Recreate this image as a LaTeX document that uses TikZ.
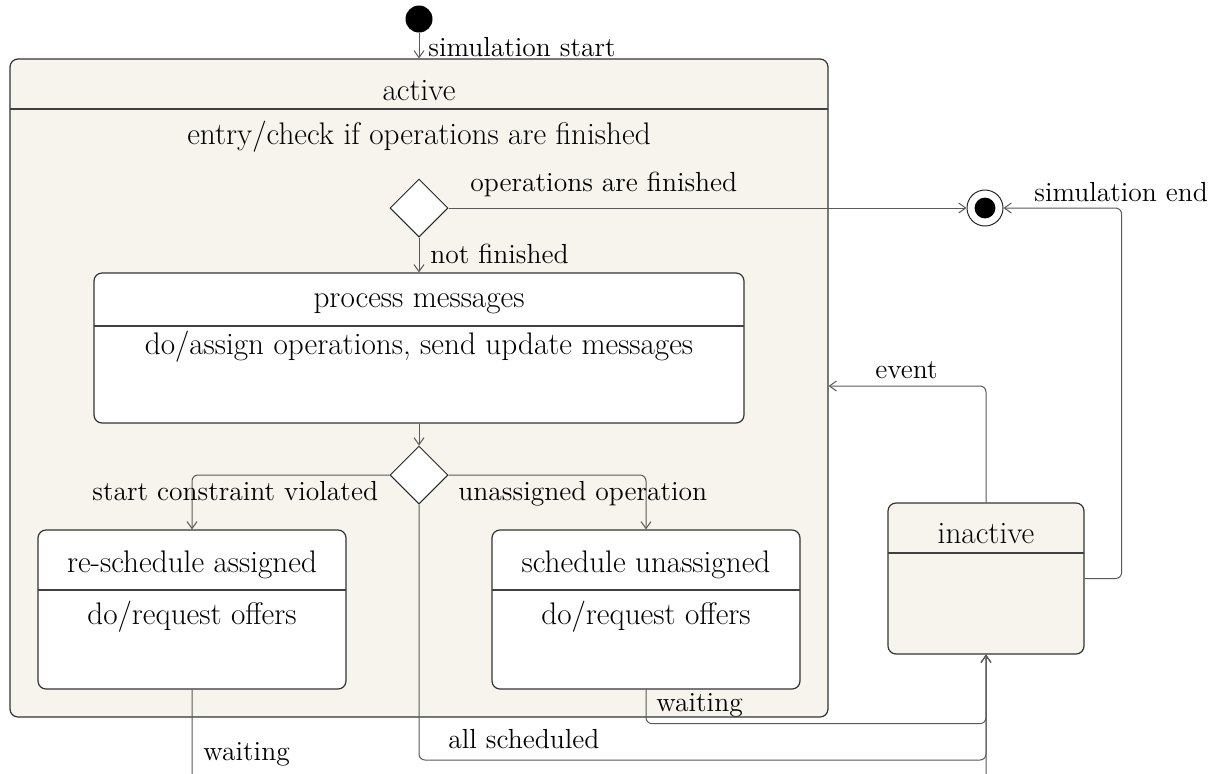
\documentclass[tikz,border=0pt]{standalone}
\usetikzlibrary{arrows.meta,shapes.geometric,fit}
\definecolor{stfill}{RGB}{247,244,237}
\begin{document}
\begin{tikzpicture}[x=0.5pt,y=-0.5pt,
  font=\fontsize{13.8}{16}\selectfont,
  stbox/.style={draw=black!80, line width=0.6pt, rounded corners=4pt, inner sep=0pt},
  outerstate/.style={stbox, fill=stfill},
  innerstate/.style={stbox, fill=white},
  part/.style={draw=black!75, line width=0.6pt},
  choice/.style={diamond, draw=black!85, line width=0.5pt, fill=white, aspect=1,
    minimum width=29pt, minimum height=29pt, inner sep=0pt},
  flow/.style={draw=black!65, line width=0.5pt, rounded corners=3pt,
    -{Straight Barb[length=3.5pt,width=5pt]}},
  lbl/.style={anchor=base west, inner sep=0pt},
  ttl/.style={anchor=base, inner sep=0pt, font=\fontsize{15.6}{18}\selectfont}]

\useasboundingbox (0,0) rectangle (1227,773);

% composite state "active"
\node[outerstate, fit={(10,59) (828,717)}] (active) {};
\draw[part] (10,109) -- (828,109);
\node[ttl] at (419,100) {active};
\node[ttl] at (419,144) {entry/check if operations are finished};

% pseudo states
\node[circle, fill=black, minimum size=13.5pt, inner sep=0pt] (init) at (419,19) {};
\node[circle, draw=black!85, line width=0.5pt, fill=white, minimum size=18pt, inner sep=0pt] (final) at (985,208) {};
\fill (final.center) circle (5.2pt);
\node[choice] (dec1) at (419,208) {};
\node[choice] (dec2) at (419,475) {};

% inner states
\node[innerstate, fit={(94,273) (744,423)}] (proc) {};
\draw[part] (94,326) -- (744,326);
\node[ttl] at (419,307) {process messages};
\node[ttl] at (419,354) {do/assign operations, send update messages};

\node[innerstate, fit={(38,530) (346,689)}] (resched) {};
\draw[part] (38,590) -- (346,590);
\node[ttl] at (192,572) {re-schedule assigned};
\node[ttl] at (192,624) {do/request offers};

\node[innerstate, fit={(492,530) (800,689)}] (sched) {};
\draw[part] (492,590) -- (800,590);
\node[ttl] at (646,572) {schedule unassigned};
\node[ttl] at (646,624) {do/request offers};

% state "inactive"
\node[outerstate, fit={(888,503) (1084,654)}] (inactive) {};
\draw[part] (888,553) -- (1084,553);
\node[ttl] at (986,543) {inactive};

% transitions
\draw[flow] (init) -- (active.north);
\node[lbl] at (428,56) {simulation start};

\draw[flow] (dec1.east) -- (final.west);
\node[lbl] at (470,191) {operations are finished};

\draw[flow] (dec1.south) -- (proc.north);
\node[lbl] at (430,263) {not finished};

\draw[flow] (proc.south) -- (dec2.north);

\draw[flow] (dec2.west) -| (resched.north);
\node[lbl] at (92,500) {start constraint violated};

\draw[flow] (dec2.east) -| (sched.north);
\node[lbl] at (458,500) {unassigned operation};

\draw[flow] (inactive.north) |- (active.east |- 0,386);
\node[lbl] at (875,378) {event};

\draw[flow] (inactive.east) -- ++(37,0) |- (final.east);
\node[lbl] at (1034,201) {simulation end};

\draw[flow] (sched.south) -- ++(0,34) -| (inactive.south);
\node[lbl] at (656,711) {waiting};

\draw[flow] (dec2.south) |- (inactive.south |- 0,760) -- (inactive.south);
\node[lbl] at (448,748) {all scheduled};

\draw[flow] (resched.south) -- ++(0,95) -| (inactive.south);
\node[lbl] at (203,760) {waiting};
\end{tikzpicture}
\end{document}
